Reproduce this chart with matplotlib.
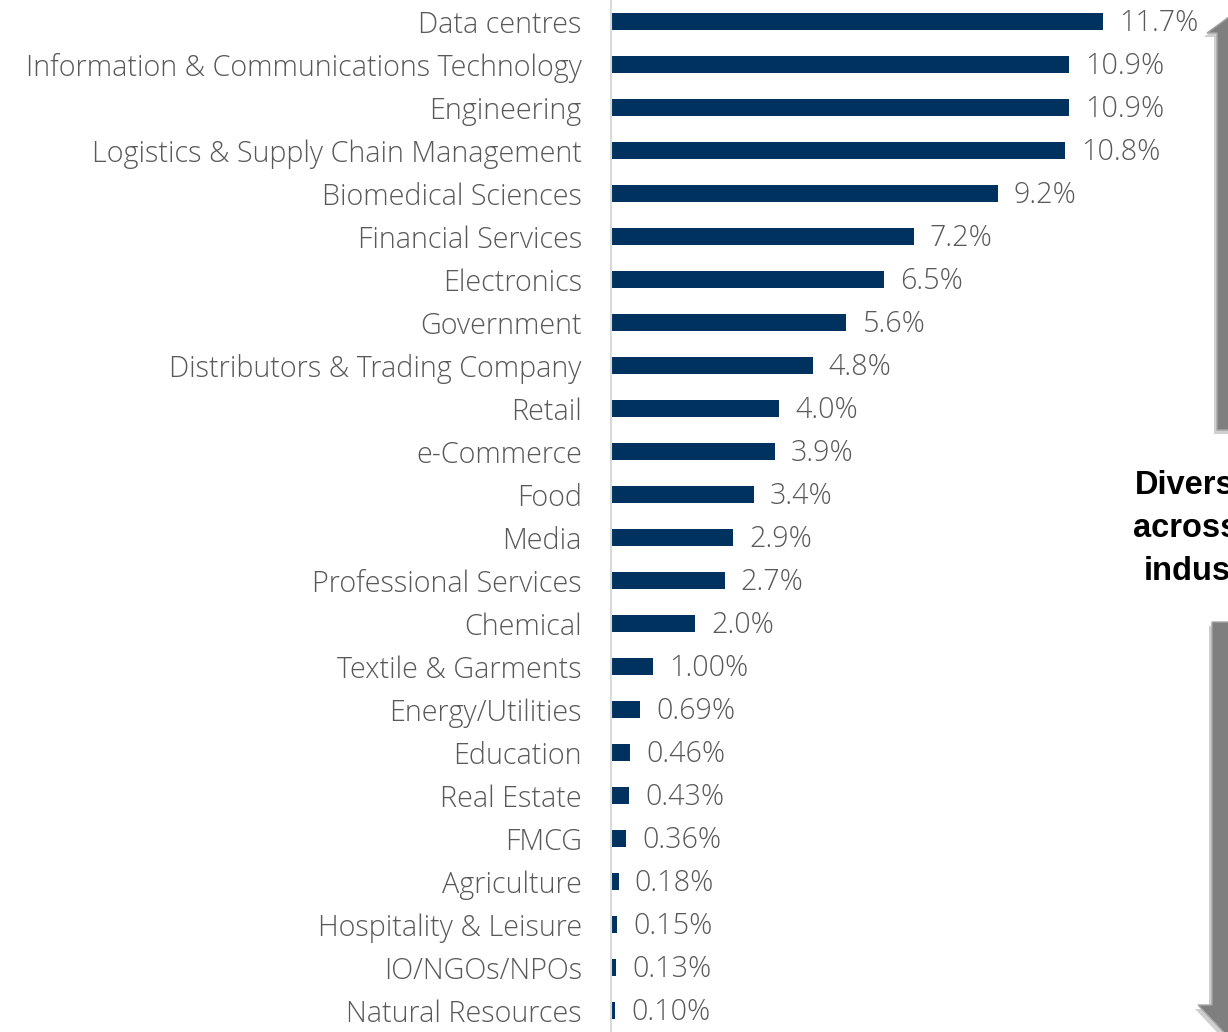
import numpy as np
import matplotlib
matplotlib.use("Agg")
from matplotlib import pyplot as plt
from matplotlib.patches import Polygon

W, H = 1228, 1032

industries = ["Data centres", "Information & Communications Technology", "Engineering",
              "Logistics & Supply Chain Management", "Biomedical Sciences", "Financial Services",
              "Electronics", "Government", "Distributors & Trading Company", "Retail",
              "e-Commerce", "Food", "Media", "Professional Services", "Chemical",
              "Textile & Garments", "Energy/Utilities", "Education", "Real Estate", "FMCG",
              "Agriculture", "Hospitality & Leisure", "IO/NGOs/NPOs", "Natural Resources"]
shares = [11.7, 10.9, 10.9, 10.8, 9.2, 7.2, 6.5, 5.6, 4.8, 4.0, 3.9, 3.4, 2.9, 2.7, 2.0,
          1.00, 0.69, 0.46, 0.43, 0.36, 0.18, 0.15, 0.13, 0.10]
share_labels = ["11.7%", "10.9%", "10.9%", "10.8%", "9.2%", "7.2%", "6.5%", "5.6%", "4.8%",
                "4.0%", "3.9%", "3.4%", "2.9%", "2.7%", "2.0%", "1.00%", "0.69%", "0.46%",
                "0.43%", "0.36%", "0.18%", "0.15%", "0.13%", "0.10%"]
side_text = ["Diversified", "across", "industries"]

bar_color = "#00325f"
text_color = "#595959"
fs = 20.7

fig = plt.figure(figsize=(W / 100, H / 100), dpi=100)
ax = fig.add_axes([611 / W, 0, (W - 611) / W, 1])

y = np.arange(len(industries))
ax.barh(y, shares, height=0.39, color=bar_color)
ax.set_ylim(len(industries) - 0.5, -0.5)
ax.set_xlim(0, (W - 611) / 42.05)

ax.set_yticks(y)
ax.set_yticklabels(industries, fontsize=fs, color=text_color, family="Open Sans", fontweight=300)
ax.tick_params(axis="y", length=0, pad=21)
ax.set_xticks([])
for s in ["top", "right", "bottom"]:
    ax.spines[s].set_visible(False)
ax.spines["left"].set_color("#d9d9d9")
ax.spines["left"].set_linewidth(1.5)

for yi, v, lab in zip(y, shares, share_labels):
    ax.annotate(lab, (v, yi), xytext=(16, -2), textcoords="offset pixels",
                va="center", ha="left", fontsize=fs, color=text_color,
                family="Open Sans", fontweight=300)


def px(pts):
    return [(x / W, 1 - yy / H) for x, yy in pts]


up = [(1217, 430), (1217, 33), (1207, 33), (1241, 8), (1275, 33), (1265, 33), (1265, 430)]
down = [(1212, 622), (1212, 1005), (1198, 1005), (1236, 1045), (1274, 1005), (1260, 1005), (1260, 622)]
for shape in (up, down):
    shadow = [(x - 3, yy + 4) for x, yy in shape]
    fig.patches.append(Polygon(px(shadow), closed=True, transform=fig.transFigure,
                               facecolor="#cfcfcf", edgecolor="none", zorder=1))
    fig.patches.append(Polygon(px(shape), closed=True, transform=fig.transFigure,
                               facecolor="#7f7f7f", edgecolor="#a6a6a6", lw=1, zorder=2))

for i, (t, x0) in enumerate(zip(side_text, [1135, 1133, 1144])):
    fig.text(x0 / W, 1 - (485 + i * 43.5) / H, t, fontsize=23.5, fontweight="bold",
             family="Liberation Sans", color="black", ha="left", va="center")

fig.savefig("out.png", dpi=100)
